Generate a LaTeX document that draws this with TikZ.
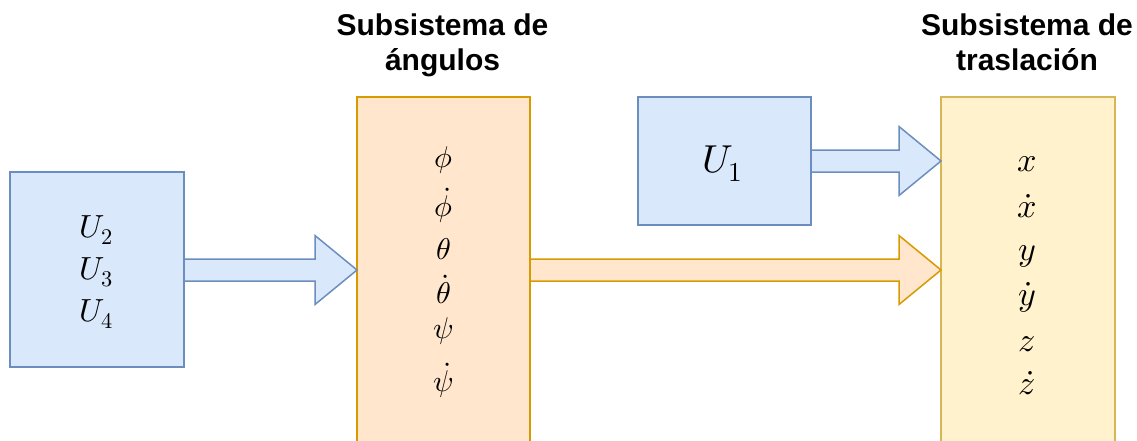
\documentclass[tikz,border=0pt]{standalone}
\usepackage{fontspec}
\setmainfont{Liberation Sans}
\usepackage{unicode-math}
\setmathfont{Latin Modern Math}
\usetikzlibrary{calc}
\definecolor{bfill}{HTML}{DAE8FC}
\definecolor{bline}{HTML}{6C8EBF}
\definecolor{ofill}{HTML}{FFE6CC}
\definecolor{oline}{HTML}{D79B00}
\definecolor{yfill}{HTML}{FFF2CC}
\definecolor{yline}{HTML}{D6B656}
\tikzset{
  box/.style={draw, rectangle, line width=1.5pt, inner sep=0pt, outer sep=0pt},
  bluebox/.style={box, fill=bfill, draw=bline},
  orangebox/.style={box, fill=ofill, draw=oline},
  yellowbox/.style={box, fill=yfill, draw=yline},
  title/.style={font=\fontsize{30}{34}\selectfont\bfseries, anchor=base, inner sep=0pt},
  mth/.style={anchor=base, inner sep=0pt},
  ucol/.style={mth, font=\fontsize{32}{32}\selectfont},
  acol/.style={mth, font=\fontsize{30}{30}\selectfont},
  tcol/.style={mth, font=\fontsize{34}{34}\selectfont},
  blockarrow/.style={line width=1.5pt, line join=miter},
}
\begin{document}
\begin{tikzpicture}[x=1pt, y=-1pt]
\useasboundingbox (0,0) rectangle (1137,440);
\clip (0,0) rectangle (1137,440);
% boxes
\node[bluebox, minimum width=174pt, minimum height=195pt] (u) at (97,269.5) {};
\node[orangebox, minimum width=173pt, minimum height=363pt] (ang) at (443.5,278.5) {};
\node[bluebox, minimum width=173pt, minimum height=128pt] (u1) at (724.5,161) {};
\node[yellowbox, minimum width=174pt, minimum height=363pt] (tr) at (1028,278.5) {};
% titles
\node[title] (t1a) at (442.5,35) {Subsistema de};
\node[title] (t1b) at (442.5,70) {ángulos};
\node[title] (t2a) at (1027,35) {Subsistema de};
\node[title] (t2b) at (1027,70) {traslación};
% U column
\node[ucol] (u2) at (96,237) {$U_2$};
\node[ucol] (u3) at (96,279) {$U_3$};
\node[ucol] (u4) at (96,321) {$U_4$};
\node[mth, font=\fontsize{39}{39}\selectfont] (u1t) at (722.5,172) {$U_1$};
% angles column
\node[acol] (a1) at (443.5,167) {$\phi$};
\node[acol] (a2) at (443.5,216) {$\dot{\phi}$};
\node[acol] (a3) at (443.5,259) {$\theta$};
\node[acol] (a4) at (443.5,303) {$\dot{\theta}$};
\node[acol] (a5) at (443.5,338) {$\psi$};
\node[acol] (a6) at (443.5,391) {$\dot{\psi}$};
% translation column
\node[tcol] (b1) at (1027,171) {$x$};
\node[tcol] (b2) at (1027,217) {$\dot{x}$};
\node[tcol] (b3) at (1027,260) {$y$};
\node[tcol] (b4) at (1027,305) {$\dot{y}$};
\node[tcol] (b5) at (1027,351) {$z$};
\node[tcol] (b6) at (1027,394) {$\dot{z}$};
% block arrows
\draw[blockarrow, fill=bfill, draw=bline]
  let \p1=(u.east), \p2=(ang.west) in
  (\x1,270-11) -- (\x2-42,270-11) -- (\x2-42,270-34.5) -- (\x2,270)
  -- (\x2-42,270+34.5) -- (\x2-42,270+11) -- (\x1,270+11) -- cycle;
\draw[blockarrow, fill=ofill, draw=oline]
  let \p1=(ang.east), \p2=(tr.west) in
  (\x1,270-11) -- (\x2-42,270-11) -- (\x2-42,270-34.5) -- (\x2,270)
  -- (\x2-42,270+34.5) -- (\x2-42,270+11) -- (\x1,270+11) -- cycle;
\draw[blockarrow, fill=bfill, draw=bline]
  let \p1=(u1.east), \p2=(tr.west) in
  (\x1,161-11) -- (\x2-42,161-11) -- (\x2-42,161-34.5) -- (\x2,161)
  -- (\x2-42,161+34.5) -- (\x2-42,161+11) -- (\x1,161+11) -- cycle;
\end{tikzpicture}
\end{document}
